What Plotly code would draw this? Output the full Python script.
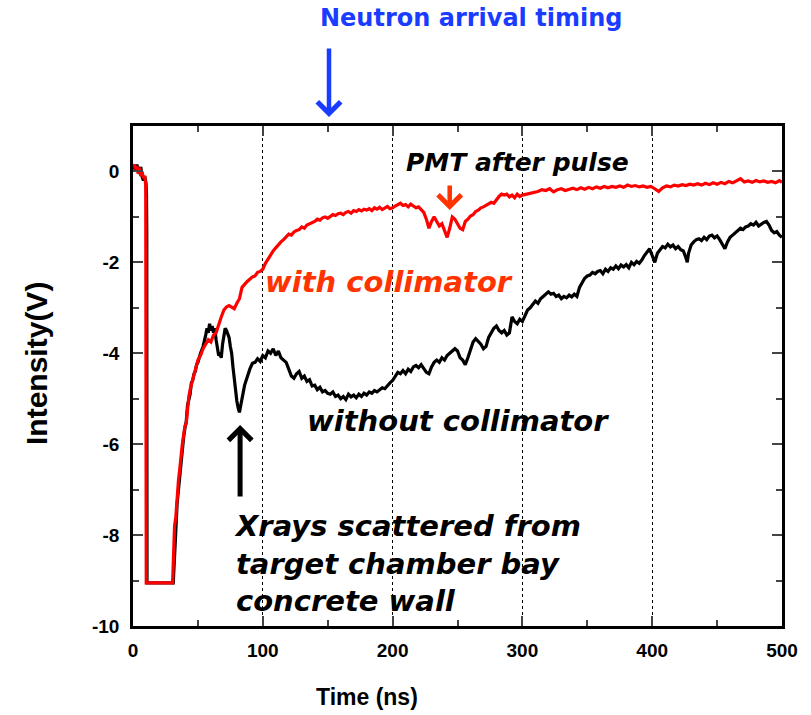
import plotly.graph_objects as go

# ---------------- data ----------------
t_with = [0, 1, 2, 3, 4, 5, 6, 7, 8, 9, 9.8, 10.2, 30.5, 31, 32, 33, 34, 35, 36, 37, 38, 39, 40, 41, 42, 43, 44, 45, 46, 47, 48, 49, 50,
          52, 54, 56, 58, 60, 62, 64, 66, 68, 70, 72, 74, 76, 78, 80, 82, 84, 86, 88, 90, 92, 94, 96, 98, 100,
          102, 104, 106, 108, 110, 112, 114, 116, 118, 120, 122, 124, 126, 128, 130, 132, 134, 136, 138, 140,
          142, 144, 146, 148, 150, 152, 154, 156, 158, 160, 162, 164, 166, 168, 170, 172, 174, 176, 178, 180,
          182, 184, 186, 188, 190, 192, 194, 196, 198, 200, 202, 204, 206, 208, 210, 212, 214, 216, 218, 220,
          222, 224, 226, 228, 230, 232, 234, 236, 238, 240, 242, 244, 246, 248, 250, 252, 254, 256, 258, 260,
          262, 264, 266, 268, 270, 272, 274, 276, 278, 280, 282, 284, 286, 288, 290, 292, 294, 296, 298, 300,
          303, 306, 309, 312, 315, 318, 321, 324, 327, 330, 333, 336, 339, 342, 345, 348, 351, 354, 357, 360,
          363, 366, 369, 372, 375, 378, 381, 384, 387, 390, 393, 396, 399, 402, 405, 408, 411, 414, 417, 420,
          423, 426, 429, 432, 435, 438, 441, 444, 447, 450, 453, 456, 459, 462, 465, 468, 471, 474, 477, 480,
          483, 486, 489, 492, 495, 498, 500]
v_with = [0.1, 0.15, 0.05, 0.12, -0.05, 0.08, -0.1, 0.0, -0.15, -0.1, -0.3, -9.05, -9.05, -8.5, -7.8, -7.6, -7.1, -6.8, -6.55, -6.2, -6.0, -5.8, -5.6, -5.55, -5.2, -4.95, -4.8, -4.7, -4.55, -4.5, -4.35, -4.3, -4.15,
          -4.05, -3.9, -3.8, -3.7, -3.75, -3.6, -3.55, -3.35, -3.2, -3.05, -2.98, -2.95, -2.98, -3.02, -2.9, -2.8, -2.55, -2.47, -2.42, -2.37, -2.32, -2.3, -2.22, -2.2, -2.15,
          -2.02, -1.92, -1.85, -1.75, -1.68, -1.6, -1.55, -1.5, -1.45, -1.38, -1.4, -1.33, -1.3, -1.28, -1.22, -1.25, -1.18, -1.15, -1.12, -1.1,
          -1.05, -1.07, -1.02, -1.0, -1.03, -0.98, -0.95, -0.97, -0.93, -0.92, -0.95, -0.9, -0.88, -0.92, -0.86, -0.88, -0.84, -0.87, -0.83, -0.85,
          -0.82, -0.86, -0.8, -0.83, -0.79, -0.84, -0.8, -0.77, -0.82, -0.8, -0.76, -0.72, -0.7, -0.75, -0.73, -0.78, -0.72, -0.76, -0.8, -0.78,
          -0.85, -0.9, -1.05, -1.25, -1.1, -1.0, -1.1, -1.2, -1.15, -1.3, -1.45, -1.25, -1.0, -1.05, -1.15, -1.25, -1.28, -1.1, -1.05, -0.98,
          -0.95, -0.88, -0.85, -0.8, -0.78, -0.75, -0.72, -0.68, -0.7, -0.62, -0.55, -0.5, -0.52, -0.5, -0.56, -0.52, -0.58, -0.5, -0.55, -0.52,
          -0.5, -0.48, -0.45, -0.44, -0.4, -0.42, -0.38, -0.45, -0.4, -0.38, -0.42, -0.4, -0.37, -0.4, -0.36, -0.39, -0.35, -0.38, -0.34, -0.37,
          -0.33, -0.36, -0.33, -0.35, -0.32, -0.35, -0.3, -0.33, -0.31, -0.34, -0.32, -0.35, -0.33, -0.38, -0.44, -0.36, -0.32, -0.34, -0.3, -0.32,
          -0.29, -0.31, -0.28, -0.3, -0.27, -0.3, -0.26, -0.29, -0.25, -0.28, -0.24, -0.27, -0.22, -0.25, -0.2, -0.16, -0.23, -0.21, -0.24, -0.2,
          -0.23, -0.21, -0.24, -0.22, -0.25, -0.2, -0.24]

t_without = [0, 1, 2, 3, 4, 5, 6, 7, 8, 9, 10, 10.4, 10.6, 10.8, 31, 32, 33, 34, 35, 36, 37, 38, 39, 40, 41, 42, 43, 44, 45, 46, 47, 48, 49, 50,
             52, 54, 56, 57, 58, 59, 60, 61, 62, 63, 64, 65, 66, 67, 68, 69, 70, 71, 72, 73, 74, 75, 76, 77, 78, 79, 80,
             81, 82, 83, 84, 85, 86, 87, 88, 89, 90, 92, 94, 96, 98, 100, 102, 104, 106, 108, 110, 112, 114, 116, 118, 120,
             122, 124, 126, 128, 130, 132, 134, 136, 138, 140, 142, 144, 146, 148, 150, 152, 154, 156, 158, 160,
             162, 164, 166, 168, 170, 172, 174, 176, 178, 180, 182, 184, 186, 188, 190, 192, 194, 196, 198, 200,
             202, 204, 206, 208, 210, 212, 214, 216, 218, 220, 222, 224, 226, 228, 230, 232, 234, 236, 238, 240,
             242, 244, 246, 248, 250, 252, 254, 256, 258, 260, 262, 264, 266, 268, 270, 272, 274, 276, 278, 280,
             282, 284, 286, 288, 290, 292, 294, 296, 298, 300, 302, 304, 306, 308, 310, 312, 314, 316, 318, 320,
             322, 324, 326, 328, 330, 332, 334, 336, 338, 340, 342, 344, 346, 348, 350, 352, 354, 356, 358, 360,
             362, 364, 366, 368, 370, 372, 374, 376, 378, 380, 382, 384, 386, 388, 390, 392, 394, 396, 398, 400,
             402, 404, 406, 408, 410, 412, 414, 416, 418, 420, 422, 424, 426, 427, 428, 430, 432, 434, 436, 438, 440,
             442, 444, 446, 448, 450, 452, 454, 456, 458, 460, 462, 464, 466, 468, 470, 472, 474, 476, 478, 480,
             482, 484, 486, 488, 490, 492, 494, 496, 498, 500]
v_without = [0.05, 0.12, 0.0, 0.15, 0.02, -0.05, 0.1, -0.12, -0.2, -0.1, -0.25, -0.5, -1.3, -9.05, -9.05, -8.3, -7.9, -7.3, -7.0, -6.6, -6.3, -6.05, -5.85, -5.65, -5.5, -5.15, -5.0, -4.9, -4.65, -4.6, -4.45, -4.4, -4.25, -4.2,
             -4.0, -3.85, -3.6, -3.45, -3.55, -3.35, -3.5, -3.4, -3.55, -3.45, -3.7, -3.95, -4.05, -4.02, -4.1, -3.8, -3.55, -3.45, -3.5, -3.6, -3.65, -3.85, -4.0, -4.3, -4.6, -4.85, -5.05,
             -5.2, -5.3, -5.15, -4.95, -4.85, -4.7, -4.6, -4.5, -4.42, -4.35, -4.22, -4.2, -4.12, -4.18, -4.05, -4.1, -3.95, -4.0, -3.9, -4.05, -3.95, -4.1, -4.15, -4.2, -4.35,
             -4.5, -4.55, -4.45, -4.4, -4.55, -4.5, -4.62, -4.58, -4.72, -4.7, -4.8, -4.75, -4.85, -4.82, -4.88, -4.9, -4.85, -4.95, -4.92, -5.0,
             -4.95, -5.02, -4.9, -4.96, -4.92, -4.98, -4.9, -4.95, -4.88, -4.92, -4.85, -4.88, -4.82, -4.85, -4.8, -4.76, -4.78, -4.7, -4.65, -4.6,
             -4.5, -4.42, -4.45, -4.38, -4.45, -4.35, -4.4, -4.3, -4.27, -4.32, -4.25, -4.35, -4.42, -4.45, -4.3, -4.2, -4.15, -4.2, -4.1, -4.15,
             -4.05, -4.0, -3.95, -3.9, -3.95, -4.1, -4.15, -4.25, -4.1, -3.9, -3.75, -3.68, -3.75, -3.8, -3.9, -3.85, -3.65, -3.55, -3.45, -3.4,
             -3.5, -3.55, -3.5, -3.6, -3.55, -3.2, -3.3, -3.35, -3.25, -3.3, -3.15, -3.05, -3.0, -2.92, -2.85, -2.9, -2.8, -2.75, -2.7, -2.65,
             -2.7, -2.68, -2.75, -2.72, -2.8, -2.75, -2.78, -2.72, -2.76, -2.7, -2.75, -2.55, -2.45, -2.35, -2.3, -2.28, -2.22, -2.25, -2.2, -2.18,
             -2.25, -2.15, -2.2, -2.12, -2.15, -2.08, -2.14, -2.06, -2.1, -2.05, -2.12, -2.0, -2.05, -1.98, -2.02, -1.95, -1.85, -1.78, -1.7, -1.85,
             -2.0, -1.8, -1.72, -1.65, -1.68, -1.6, -1.66, -1.62, -1.7, -1.65, -1.72, -1.75, -1.9, -2.0, -1.8, -1.62, -1.55, -1.5, -1.48, -1.52, -1.45,
             -1.5, -1.42, -1.4, -1.46, -1.42, -1.5, -1.6, -1.7, -1.55, -1.45, -1.4, -1.35, -1.3, -1.25, -1.28, -1.22, -1.2, -1.15, -1.18, -1.12,
             -1.2, -1.15, -1.12, -1.1, -1.18, -1.3, -1.35, -1.32, -1.4, -1.45]

x_ticks = [0, 100, 200, 300, 400, 500]
x_ticktext = ["0", "100", "200", "300", "400", "500"]
y_ticks = [-10, -8, -6, -4, -2, 0]
y_ticktext = ["-10", "-8", "-6", "-4", "-2", "0"]

# ---------------- figure ----------------
fig = go.Figure()
fig.add_trace(go.Scatter(x=t_without, y=v_without, mode="lines",
                         line=dict(color="black", width=3.2), name="without collimator"))
fig.add_trace(go.Scatter(x=t_with, y=v_with, mode="lines",
                         line=dict(color="#ff0000", width=3.2), name="with collimator"))

tickfont = dict(family="Liberation Sans, Arial", size=19, color="black", weight="bold")

fig.update_layout(
    width=811, height=715,
    margin=dict(l=133, r=29, t=126, b=89),
    paper_bgcolor="white", plot_bgcolor="white",
    showlegend=False,
    xaxis=dict(range=[0, 500], tickvals=x_ticks, ticktext=x_ticktext, ticks="inside", ticklen=10, tickwidth=2,
               minor=dict(dtick=50, ticks="inside", ticklen=6, tickwidth=2, showgrid=False),
               showline=True, linewidth=2.5, linecolor="black", mirror="ticks",
               showgrid=True, gridcolor="black", gridwidth=1, griddash="dot",
               zeroline=False, tickfont=tickfont, ticklabelstandoff=5),
    yaxis=dict(range=[-10, 1], tickvals=y_ticks, ticktext=y_ticktext, ticks="inside", ticklen=10, tickwidth=2,
               minor=dict(dtick=1, ticks="inside", ticklen=6, tickwidth=2, showgrid=False),
               showline=True, linewidth=2.5, linecolor="black", mirror="ticks",
               showgrid=False, zeroline=False, tickfont=tickfont, ticklabelstandoff=7),
)

ann_font = dict(family="DejaVu Sans", size=29, weight="bold", style="italic")

annotations = [
    # axis titles
    dict(text="Time (ns)", xref="paper", yref="paper", x=0.36, y=-0.142, showarrow=False,
         font=dict(family="Liberation Sans, Arial", size=23, weight="bold", color="black"),
         xanchor="center", yanchor="middle"),
    dict(text="Intensity(V)", xref="paper", yref="paper", x=-0.1495, y=0.526, showarrow=False, textangle=-90,
         font=dict(family="Liberation Sans, Arial", size=30, weight="bold", color="black"),
         xanchor="center", yanchor="middle"),
    # neutron arrival timing
    dict(text="Neutron arrival timing", xref="paper", yref="paper", x=(471 - 133) / 649, y=(626 - 18) / 500,
         showarrow=False, font=dict(family="DejaVu Sans", size=24, weight="bold", color="#1a3cff"),
         xanchor="center", yanchor="middle"),
    dict(text="", xref="x", yref="paper", x=151, y=(626 - 117) / 500, ax=0, ay=-70,
         showarrow=True, arrowhead=4, arrowsize=1, arrowwidth=4.5, arrowcolor="#1a3cff"),
    # PMT after pulse
    dict(text="PMT after pulse", xref="x", yref="y", x=296, y=0.19, showarrow=False,
         font=dict(family="DejaVu Sans", size=25, weight="bold", style="italic", color="black"),
         xanchor="center", yanchor="middle"),
    dict(text="", xref="x", yref="y", x=244, y=-0.85, ax=0, ay=-26,
         showarrow=True, arrowhead=4, arrowsize=1, arrowwidth=4.5, arrowcolor="#ff3300"),
    # curve labels
    dict(text="with collimator", xref="x", yref="y", x=197, y=-2.44, showarrow=False,
         font=dict(ann_font, color="#ff3300"), xanchor="center", yanchor="middle"),
    dict(text="without collimator", xref="x", yref="y", x=250.5, y=-5.48, showarrow=False,
         font=dict(ann_font, color="black"), xanchor="center", yanchor="middle"),
    # Xrays
    dict(text="Xrays scattered from<br>target chamber bay<br>concrete wall", xref="x", yref="y",
         x=76, y=-8.62, showarrow=False, align="left",
         font=dict(ann_font, color="black"), xanchor="left", yanchor="middle"),
    dict(text="", xref="x", yref="y", x=82.5, y=-5.58, ax=0, ay=73,
         showarrow=True, arrowhead=4, arrowsize=0.9, arrowwidth=5, arrowcolor="black"),
]
fig.update_layout(annotations=annotations)

fig.write_html("out.html")
